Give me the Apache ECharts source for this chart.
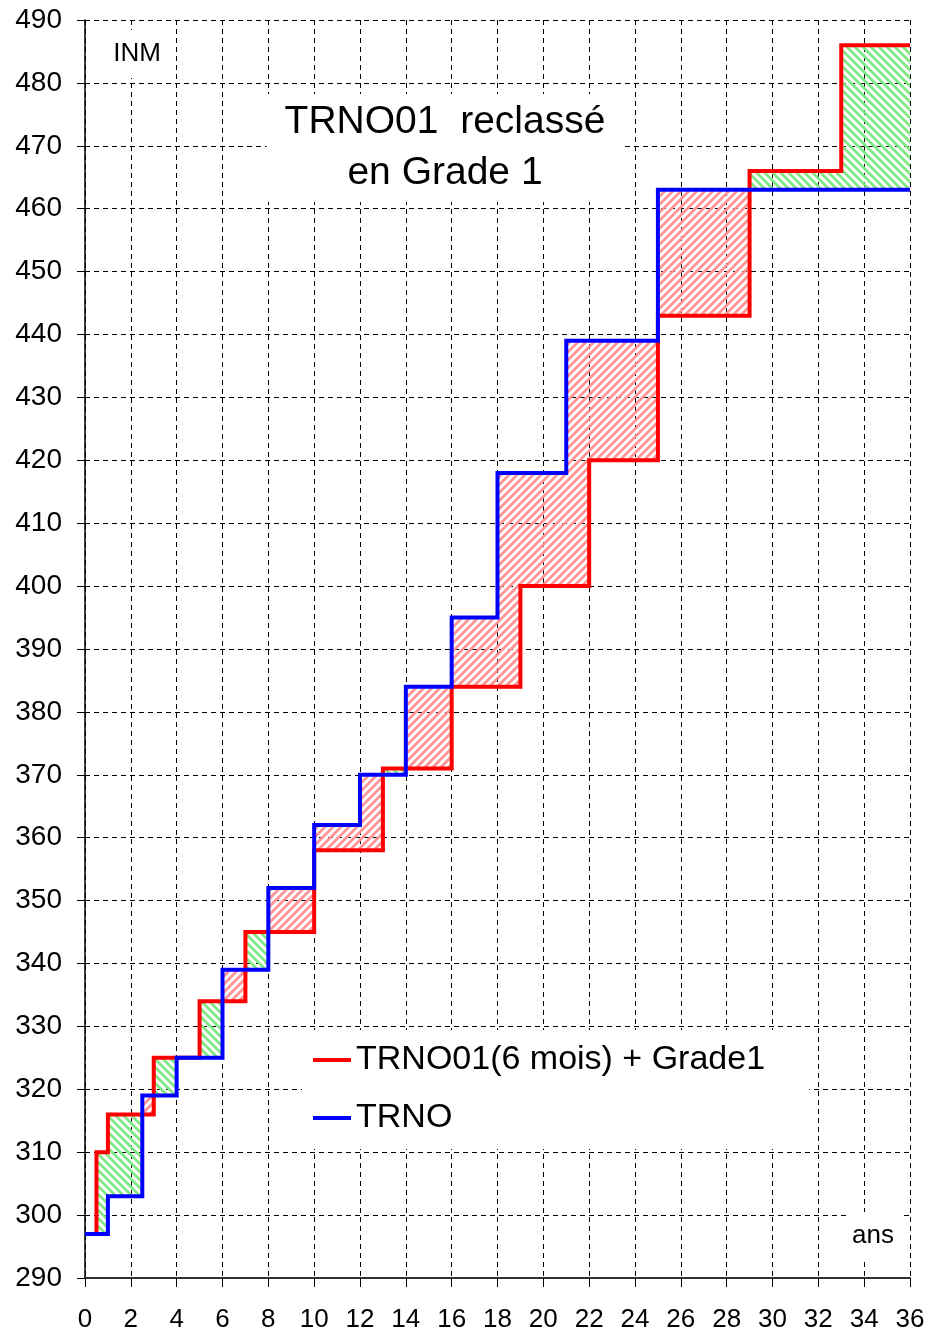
<!DOCTYPE html>
<html>
<head>
<meta charset="utf-8">
<script src="https://cdn.jsdelivr.net/npm/echarts@6/dist/echarts.min.js"></script>
<style>
  html, body { margin: 0; padding: 0; background: #fff; }
  #chart { width: 931px; height: 1333px; }
</style>
</head>
<body>
<div id="chart"></div>
<script>
// ---- Data ----
// TRNO step function: value trnoY[i] holds from trnoX[i] to trnoX[i+1]
const trnoX = [0, 1, 2.5, 4, 6, 8, 10, 12, 14, 16, 18, 21, 25, 36];
const trnoY = [297, 303, 319, 325, 339, 352, 362, 370, 384, 395, 418, 439, 463];
// TRNO01(6 mois) + Grade1 step function
const gradeX = [0, 0.5, 1, 3, 5, 7, 10, 13, 16, 19, 22, 25, 29, 33, 36];
const gradeY = [297, 310, 316, 325, 334, 345, 358, 371, 384, 400, 420, 443, 466, 486];

const seriesNames = ['TRNO01(6 mois) + Grade1', 'TRNO'];
const titleLines = ['TRNO01  reclassé', 'en Grade 1'];
const yUnit = 'INM';
const xUnit = 'ans';

// ---- Helpers ----
function stepPoints(xs, ys) {
  const pts = [];
  for (let i = 0; i < ys.length; i++) {
    pts.push([xs[i], ys[i]]);
    pts.push([xs[i + 1], ys[i]]);
  }
  return pts;
}
function valueAt(xs, ys, t) {
  for (let i = 0; i < ys.length; i++) {
    if (t >= xs[i] && t < xs[i + 1]) return ys[i];
  }
  return ys[ys.length - 1];
}
// hatch regions between the two step curves
const breaks = Array.from(new Set(trnoX.concat(gradeX))).sort((a, b) => a - b);
const hatchData = [];
for (let i = 0; i < breaks.length - 1; i++) {
  const a = breaks[i], b = breaks[i + 1], m = (a + b) / 2;
  const g = valueAt(gradeX, gradeY, m), t = valueAt(trnoX, trnoY, m);
  if (g !== t) hatchData.push([a, b, Math.min(g, t), Math.max(g, t), g > t ? 1 : 0]);
}

function makePattern(color, rising) {
  const s = 8;
  const c = document.createElement('canvas');
  c.width = s; c.height = s;
  const ctx = c.getContext('2d');
  ctx.strokeStyle = color;
  ctx.lineWidth = 2.8;
  ctx.beginPath();
  if (rising) {
    ctx.moveTo(-2, s + 2); ctx.lineTo(s + 2, -2);
    ctx.moveTo(-2, 2); ctx.lineTo(2, -2);
    ctx.moveTo(s - 2, s + 2); ctx.lineTo(s + 2, s - 2);
  } else {
    ctx.moveTo(-2, -2); ctx.lineTo(s + 2, s + 2);
    ctx.moveTo(s - 2, -2); ctx.lineTo(s + 2, 2);
    ctx.moveTo(-2, s - 2); ctx.lineTo(2, s + 2);
  }
  ctx.stroke();
  return { image: c, repeat: 'repeat' };
}
const redHatch = makePattern('#ff9494', true);
const greenHatch = makePattern('#80e880', false);

const FONT = '"Liberation Sans", Arial, sans-serif';
const gridDash = { color: '#000', width: 1, type: [5, 4] };

const chart = echarts.init(document.getElementById('chart'), null, { renderer: 'canvas' });
chart.setOption({
  animation: false,
  backgroundColor: '#fff',
  grid: { left: 85, right: 21, top: 20, bottom: 55, containLabel: false },
  xAxis: {
    type: 'value', min: 0, max: 36, interval: 2,
    axisLine: { show: true, onZero: false, lineStyle: { color: '#333', width: 2 } },
    axisTick: { show: true, length: 9, lineStyle: { color: '#000', width: 1 } },
    axisLabel: { fontSize: 26, color: '#000', margin: 29, fontFamily: FONT },
    splitLine: { show: true, lineStyle: gridDash }
  },
  yAxis: {
    type: 'value', min: 290, max: 490, interval: 10,
    axisLine: { show: true, onZero: false, lineStyle: { color: '#000', width: 1.5 } },
    axisTick: { show: true, length: 8, lineStyle: { color: '#000', width: 1 } },
    axisLabel: { fontSize: 28, color: '#000', margin: 23, fontFamily: FONT },
    splitLine: { show: true, lineStyle: gridDash }
  },
  legend: {
    orient: 'vertical', left: 302, top: 1030,
    data: seriesNames,
    icon: 'rect', itemWidth: 38, itemHeight: 4, itemGap: 24,
    backgroundColor: '#fff',
    padding: [13, 44, 14, 11],
    textStyle: { fontSize: 34, color: '#000', fontFamily: FONT, lineHeight: 34 },
    z: 20
  },
  graphic: [
    {
      type: 'text', x: 445, y: 148, z: 50,
      style: {
        text: titleLines.join('\n'), font: '39px ' + FONT, fill: '#000',
        align: 'center', verticalAlign: 'middle', textAlign: 'center', textVerticalAlign: 'middle',
        lineHeight: 51, backgroundColor: '#fff', padding: [3, 18, 3, 18]
      }
    },
    {
      type: 'text', x: 137, y: 54, z: 50,
      style: {
        text: yUnit, font: '26px ' + FONT, fill: '#000',
        align: 'center', verticalAlign: 'middle', textAlign: 'center', textVerticalAlign: 'middle',
        backgroundColor: '#fff', padding: [11, 4, 11, 4]
      }
    },
    {
      type: 'text', x: 873, y: 1236, z: 50,
      style: {
        text: xUnit, font: '26px ' + FONT, fill: '#000',
        align: 'center', verticalAlign: 'middle', textAlign: 'center', textVerticalAlign: 'middle',
        backgroundColor: '#fff', padding: [11, 6, 11, 6]
      }
    }
  ],
  series: [
    {
      type: 'custom',
      name: 'hatch',
      data: hatchData,
      silent: true,
      z: 1,
      renderItem: function (params, api) {
        const p1 = api.coord([api.value(0), api.value(3)]);
        const p2 = api.coord([api.value(1), api.value(2)]);
        return {
          type: 'rect',
          shape: { x: p1[0], y: p1[1], width: p2[0] - p1[0], height: p2[1] - p1[1] },
          style: { fill: api.value(4) === 1 ? greenHatch : redHatch, stroke: null }
        };
      }
    },
    {
      type: 'line', name: seriesNames[0],
      data: stepPoints(gradeX, gradeY),
      showSymbol: false, symbol: 'none', z: 3,
      itemStyle: { color: '#ff0000' },
      lineStyle: { color: '#ff0000', width: 4, join: 'miter' }
    },
    {
      type: 'line', name: seriesNames[1],
      data: stepPoints(trnoX, trnoY),
      showSymbol: false, symbol: 'none', z: 4,
      itemStyle: { color: '#0000ff' },
      lineStyle: { color: '#0000ff', width: 4, join: 'miter' }
    }
  ]
});
</script>
</body>
</html>
